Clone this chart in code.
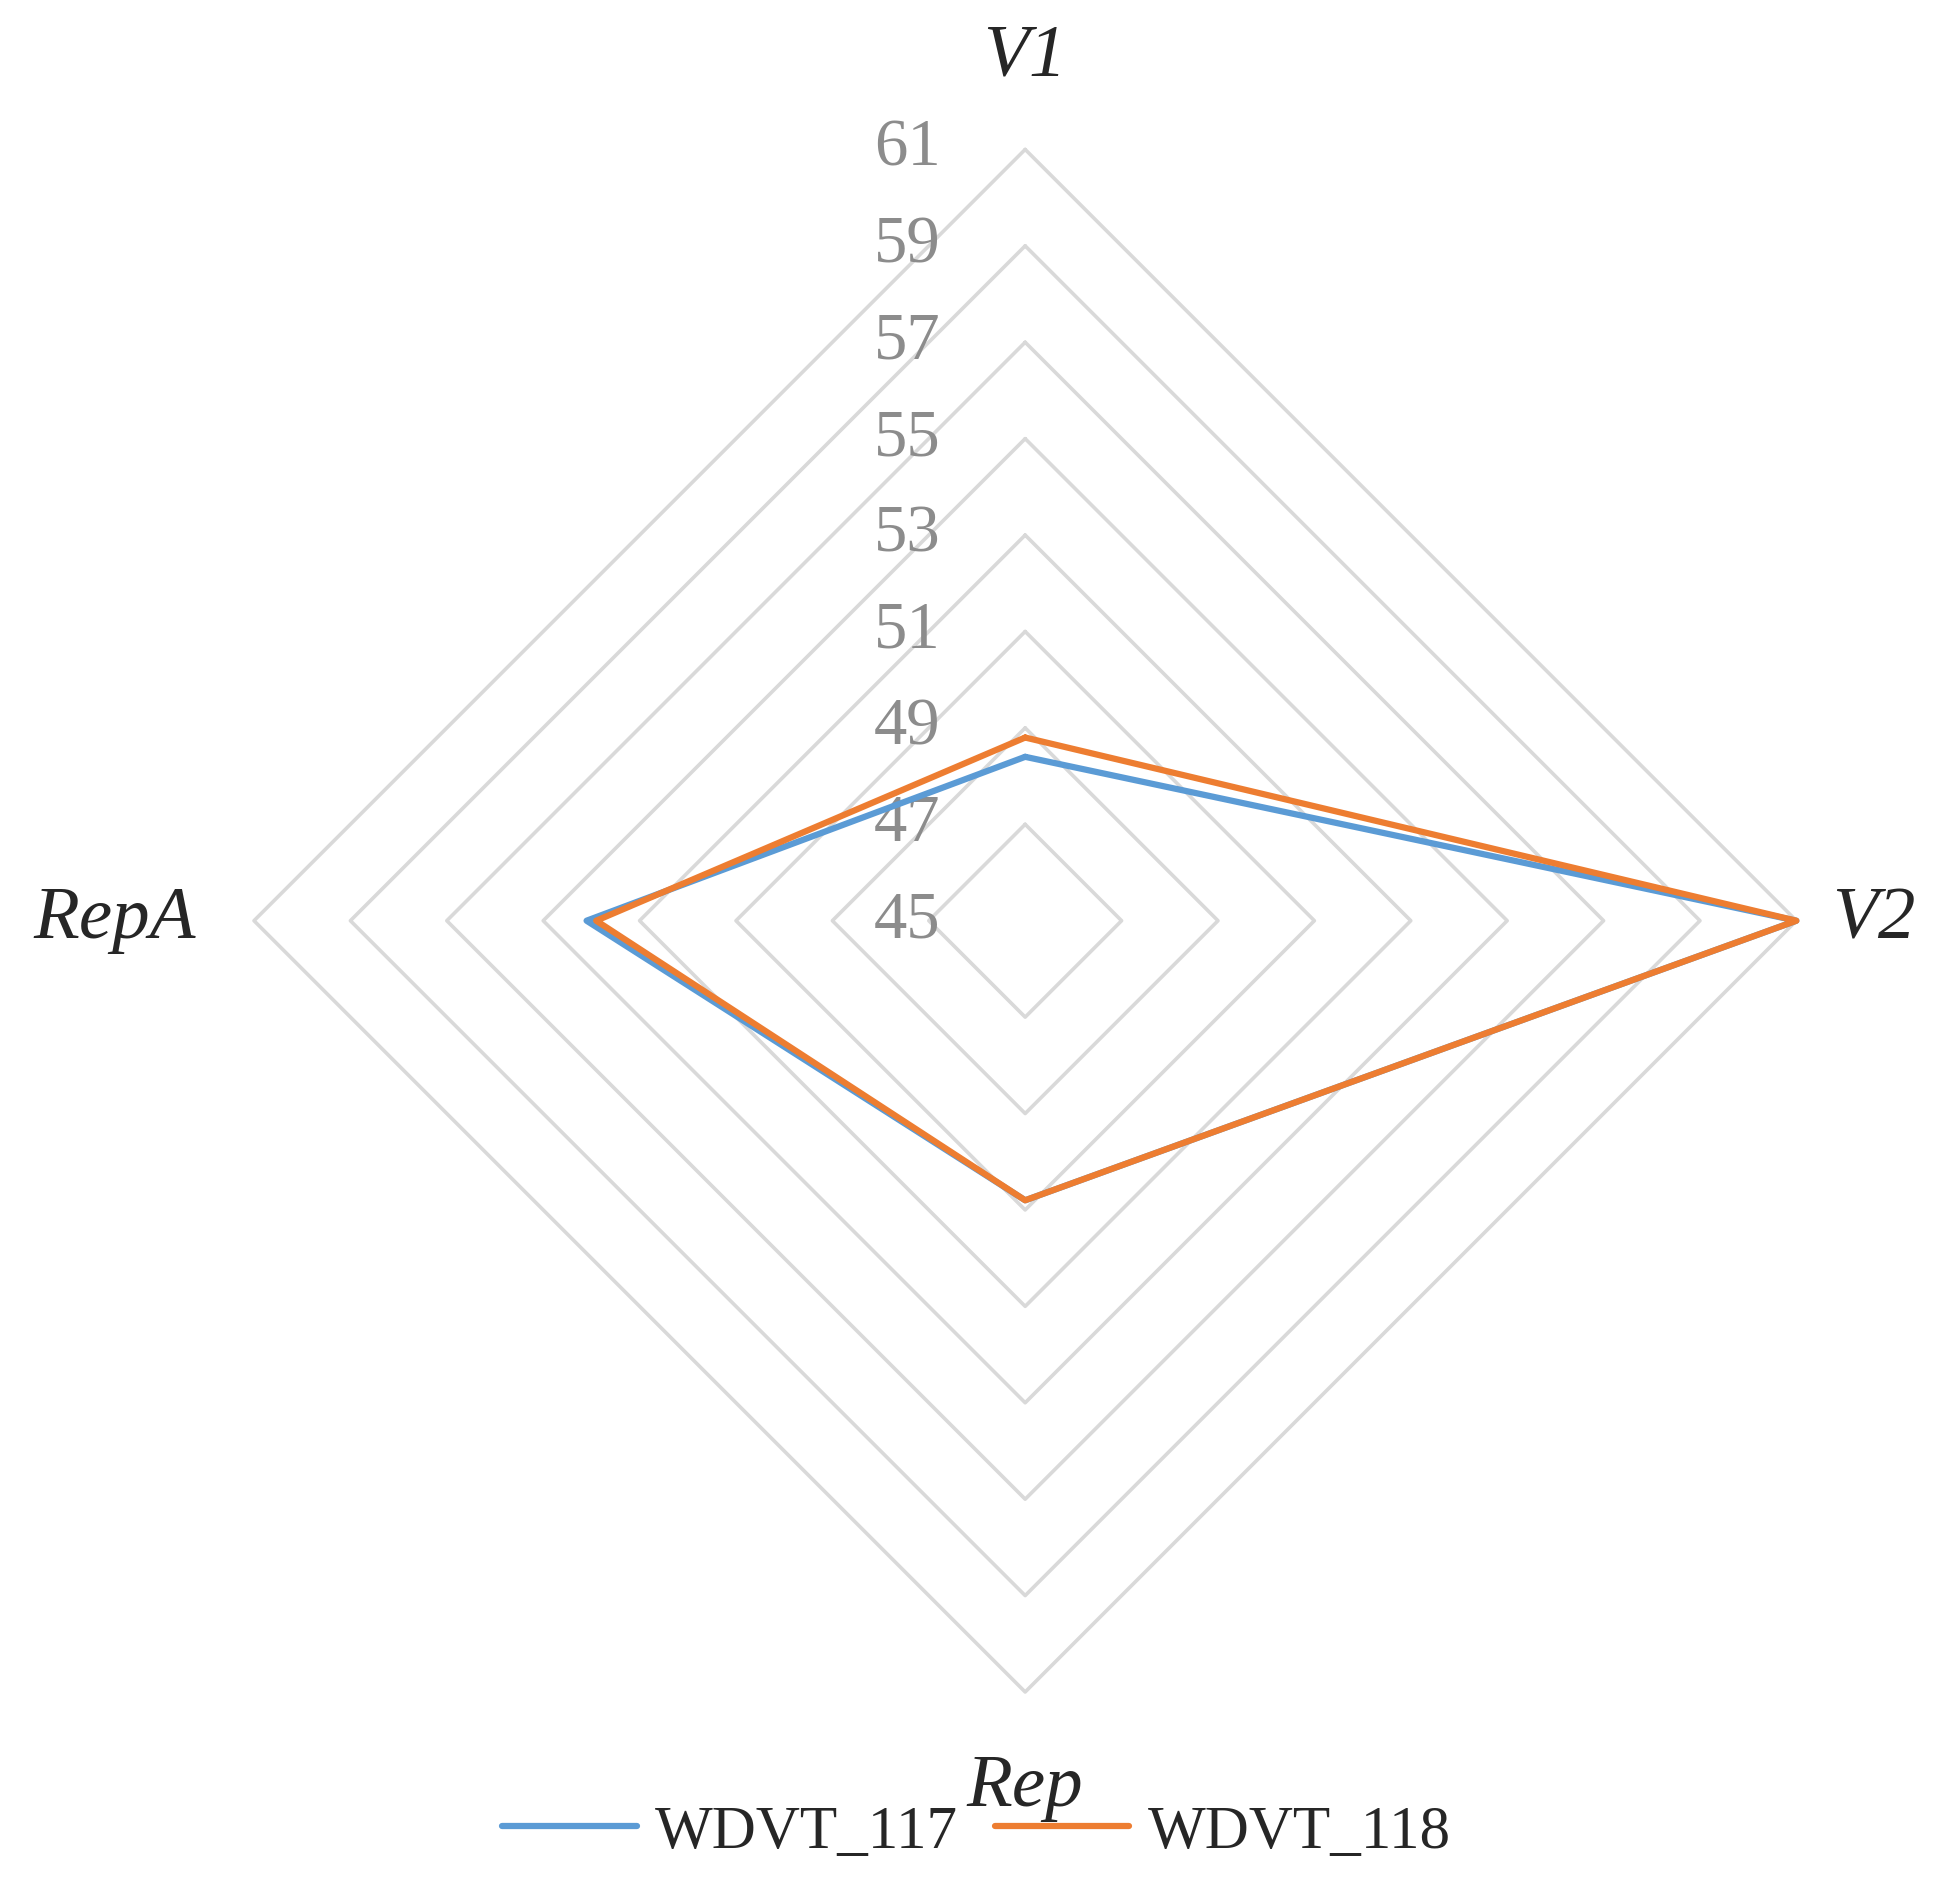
import numpy as np, pandas as pd, matplotlib
matplotlib.use("Agg")
import matplotlib.pyplot as plt, seaborn as sns

categories = ["V1", "V2", "Rep", "RepA"]
wdvt_117 = [48.4, 61.0, 50.8, 54.1]
wdvt_118 = [48.8, 61.0, 50.8, 53.9]
ticks = [45, 47, 49, 51, 53, 55, 57, 59, 61]
rmin = 45

sns.set_style("white")
plt.rcParams['font.family'] = ['Liberation Serif', 'DejaVu Serif']

fig = plt.figure(figsize=(19.53, 18.93), dpi=100)
ax = fig.add_axes([0, 0, 1, 1])
theta = np.arange(4) * np.pi / 2

def xy(vals):
    r = np.array(vals) - rmin
    x = r * np.sin(theta); y = r * np.cos(theta)
    return np.append(x, x[0]), np.append(y, y[0])

for t in ticks[1:]:
    gx, gy = xy([t] * 4)
    ax.plot(gx, gy, color="#D9D9D9", lw=2.6, zorder=1)

for t in ticks:
    ax.text(-2.45, t - rmin, str(t), color="#8C8C8C", fontsize=48, ha="center", va="center", zorder=3)

rows = []
for name, vals in [("WDVT_117", wdvt_117), ("WDVT_118", wdvt_118)]:
    x, y = xy(vals)
    for i in range(5):
        rows.append(dict(series=name, x=x[i], y=y[i], o=i))
df = pd.DataFrame(rows)
sns.lineplot(data=df, x="x", y="y", hue="series", units="series", estimator=None, sort=False,
             palette={"WDVT_117": "#5B9BD5", "WDVT_118": "#ED7D31"}, lw=4.5, ax=ax, legend=False, zorder=4)
ax.set_xlim(-21.27, 19.25); ax.set_ylim(-20.17, 19.1); ax.axis("off")

lab_r = [17.9, 17.6, 18.0, 18.9]
for c, th, rr in zip(categories, theta, lab_r):
    ax.text(rr * np.sin(th), rr * np.cos(th), c, fontsize=54, style="italic", ha="center", va="center")

from matplotlib.lines import Line2D
h = [Line2D([], [], color="#5B9BD5", lw=4.5), Line2D([], [], color="#ED7D31", lw=4.5)]
fig.legend(h, ["WDVT_117", "WDVT_118"], loc="lower center", bbox_to_anchor=(0.5, -0.012), ncol=2,
           frameon=False, fontsize=44, handlelength=2.2, columnspacing=0.6, handletextpad=0.3)
fig.savefig("out.png", dpi=100)
